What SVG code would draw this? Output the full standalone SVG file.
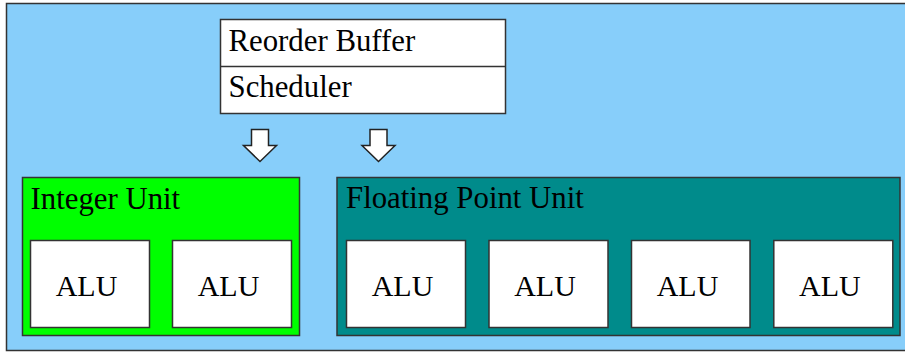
<svg xmlns="http://www.w3.org/2000/svg" width="905" height="352" viewBox="0 0 905 352">
<style>
.lbl{font-family:"Liberation Serif","Times New Roman",serif;font-size:30.8px;fill:#000}
.alu{font-family:"Liberation Serif","Times New Roman",serif;font-size:30px;fill:#000;text-anchor:middle}
.box{fill:#fff;stroke:#333;stroke-width:1.5}
.arrow{fill:#fff;stroke:#222;stroke-width:1.5;stroke-linejoin:miter}
</style>
<rect width="905" height="352" fill="#fff"/>
<g id="background">
<rect x="6.5" y="3.5" width="910" height="347" fill="#87cefa" stroke="#333" stroke-width="1.5"/>
</g>
<g id="rob-scheduler">
<rect x="220.5" y="19.5" width="285" height="94" class="box"/>
<line x1="220.5" y1="66.5" x2="505.5" y2="66.5" stroke="#333" stroke-width="1.5"/>
<text x="228.5" y="50.7" class="lbl">Reorder Buffer</text>
<text x="228.5" y="97.3" class="lbl">Scheduler</text>
</g>
<g id="connectors">
<path class="arrow" d="M251.5,129.5 H268.5 V145.5 H276.5 L260,161.5 L243.5,145.5 H251.5 Z"/>
<path class="arrow" d="M370,129.5 H387 V145.5 H395 L378.5,161.5 L362,145.5 H370 Z"/>
</g>
<g id="integer-unit">
<rect x="22.5" y="177.5" width="277" height="158" fill="#00ff00" stroke="#333" stroke-width="1.5"/>
<text x="30.5" y="208.8" class="lbl">Integer Unit</text>
</g>
<g id="int-alu-1">
<rect x="30.5" y="240.5" width="119" height="87" class="box"/>
<text x="86.5" y="295.7" class="alu">ALU</text>
</g>
<g id="int-alu-2">
<rect x="172.5" y="240.5" width="119" height="87" class="box"/>
<text x="228.5" y="295.7" class="alu">ALU</text>
</g>
<g id="fp-unit">
<rect x="337" y="177.5" width="563" height="158" fill="#008b8b" stroke="#333" stroke-width="1.5"/>
<text x="346" y="208" class="lbl">Floating Point Unit</text>
</g>
<g id="fp-alu-1">
<rect x="346.5" y="240.5" width="119" height="87" class="box"/>
<text x="402.5" y="295.7" class="alu">ALU</text>
</g>
<g id="fp-alu-2">
<rect x="489" y="240.5" width="119" height="87" class="box"/>
<text x="545" y="295.7" class="alu">ALU</text>
</g>
<g id="fp-alu-3">
<rect x="631.5" y="240.5" width="118.5" height="87" class="box"/>
<text x="687.5" y="295.7" class="alu">ALU</text>
</g>
<g id="fp-alu-4">
<rect x="773.8" y="240.5" width="119" height="87" class="box"/>
<text x="829.8" y="295.7" class="alu">ALU</text>
</g>
</svg>
